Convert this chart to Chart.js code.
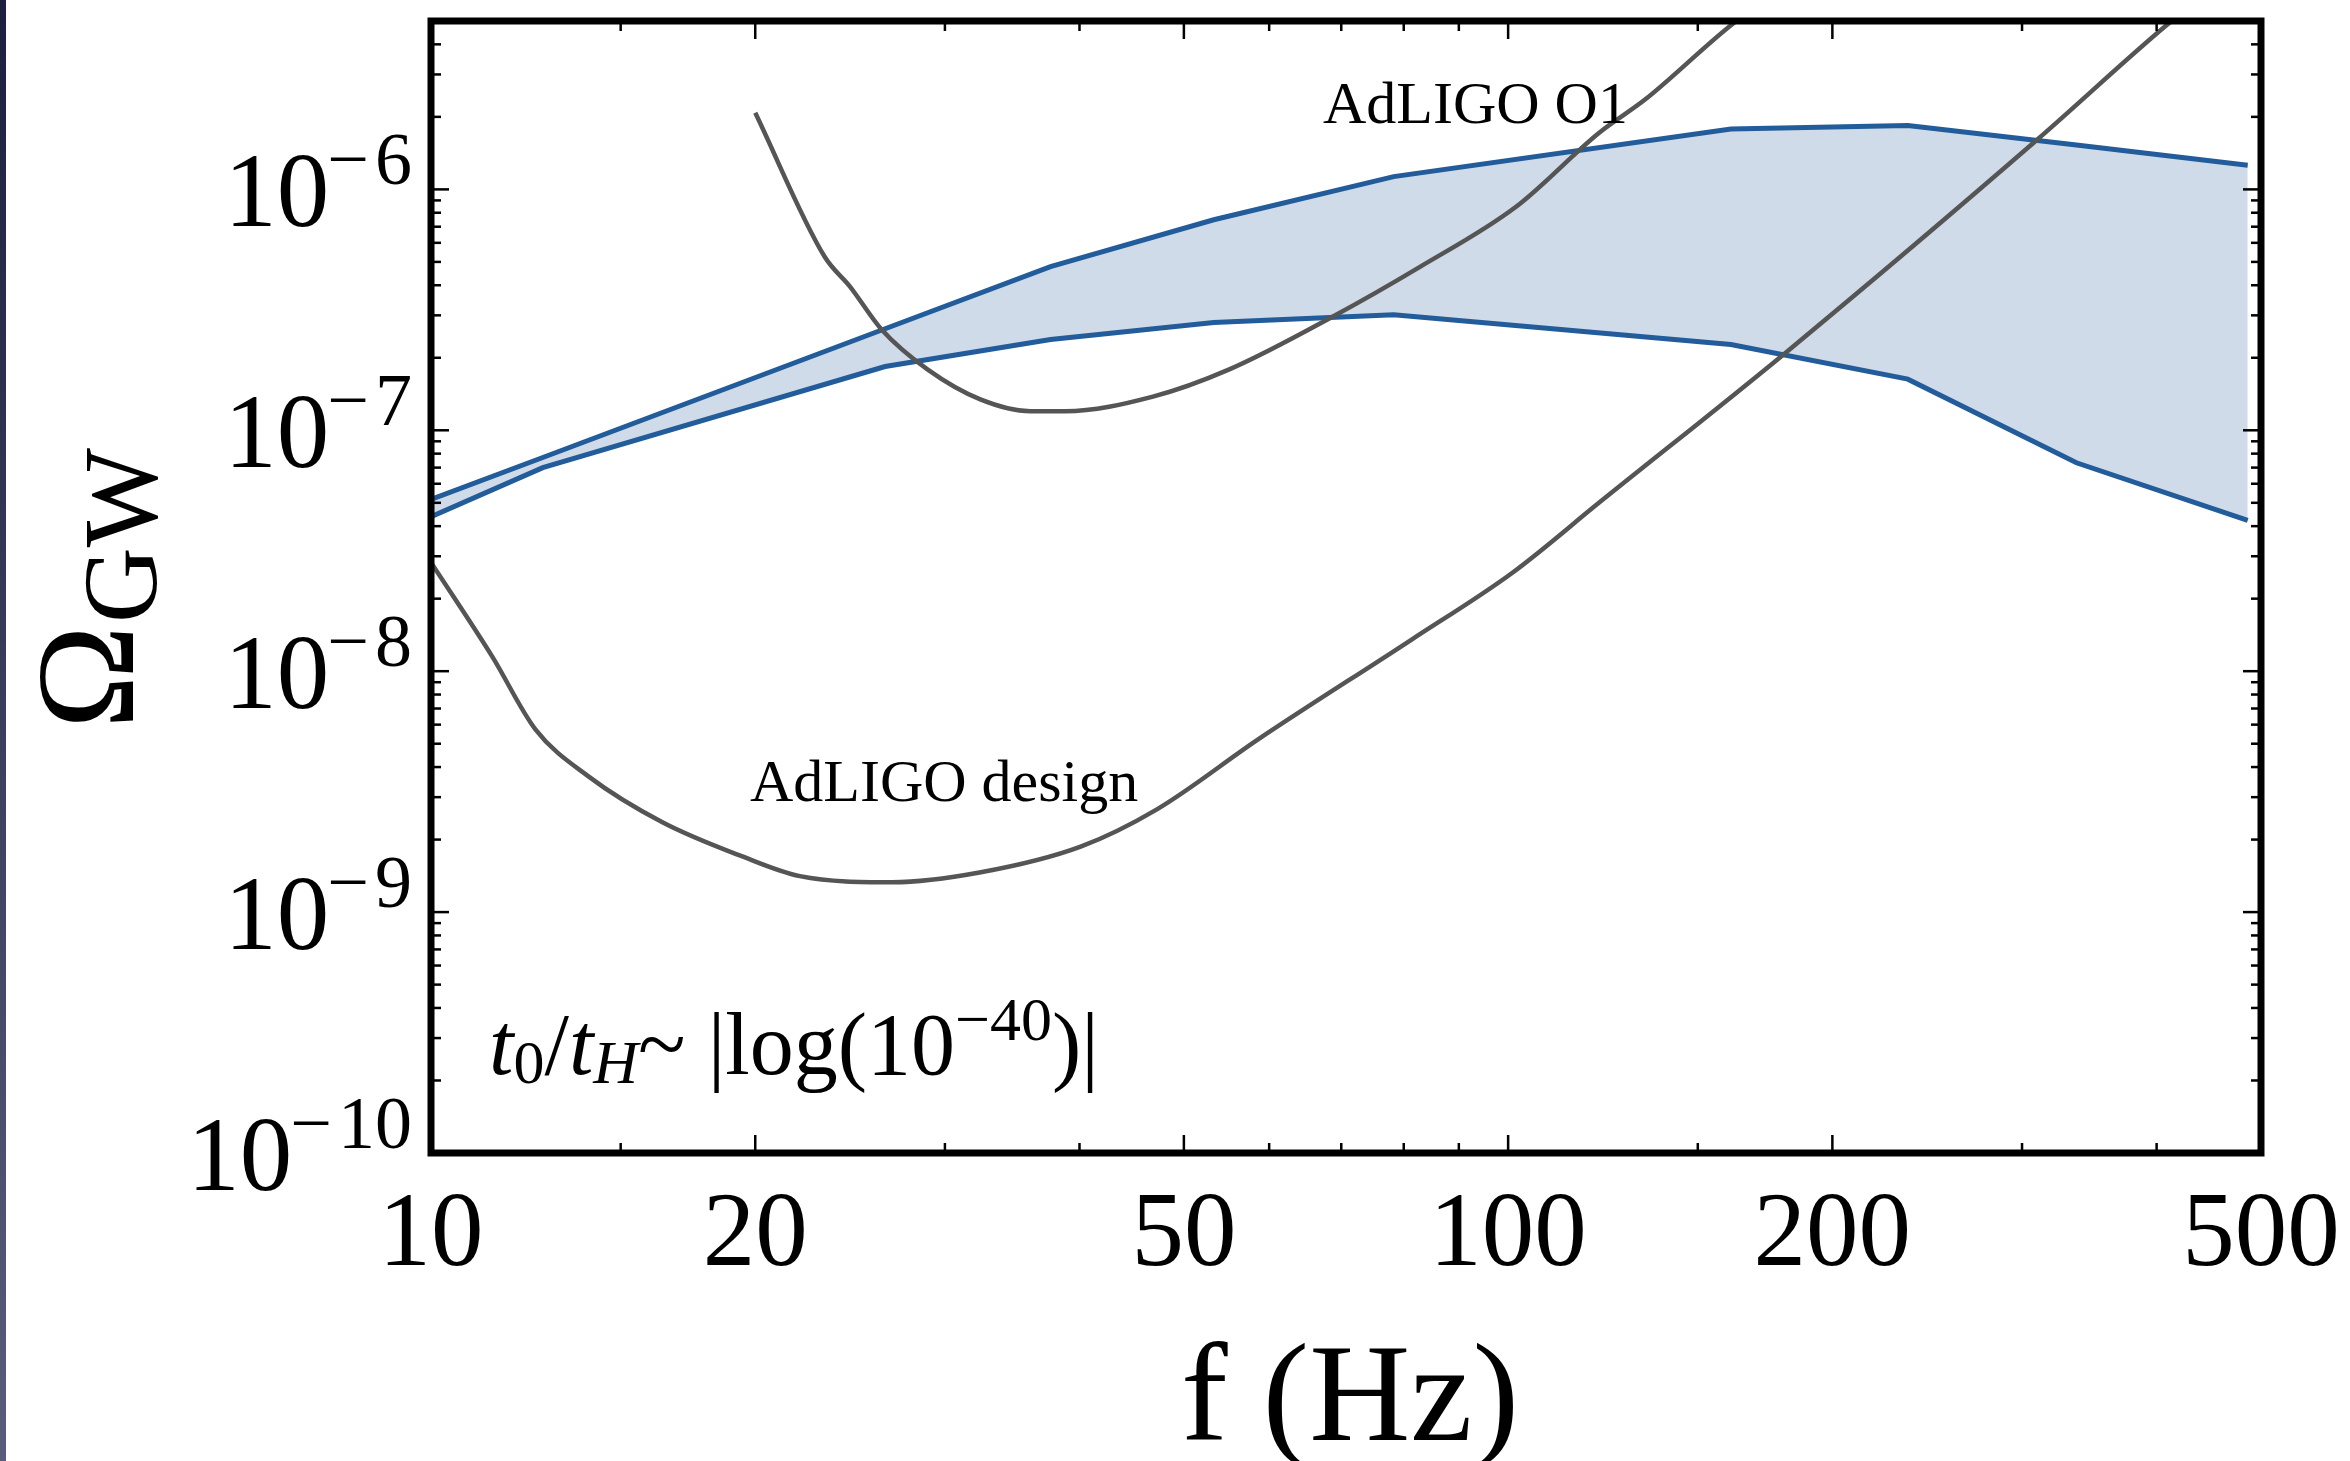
<!DOCTYPE html>
<html>
<head>
<meta charset="utf-8">
<script src="https://cdn.jsdelivr.net/npm/chart.js@4.4.0/dist/chart.umd.min.js"></script>
<style>
  html, body { margin: 0; padding: 0; background: #fff; }
  canvas { display: block; }
</style>
</head>
<body>
<canvas id="gwChart" width="2350" height="1461"></canvas>
<script>
// values: f in Hz, Omega_GW
const bandFreq  = [10, 12.7, 26.4, 37.6, 53.3, 78.3, 161, 235, 337, 486];
const bandUpper = [5.16e-8, 7.71e-8, 2.64e-7, 4.78e-7, 7.48e-7, 1.13e-6, 1.78e-6, 1.84e-6, 1.53e-6, 1.26e-6];
const bandLower = [4.38e-8, 7.0e-8, 1.84e-7, 2.38e-7, 2.80e-7, 3.02e-7, 2.27e-7, 1.63e-7, 7.33e-8, 4.23e-8];

const o1Freq  = [20.0, 23.2, 24.5, 26.2, 28.9, 32.4, 36.0, 38.8, 46.8, 55.1, 68.7, 82.9, 101.7, 121.5, 134, 162, 166];
const o1Omega = [2.08e-6, 5.25e-7, 3.94e-7, 2.62e-7, 1.79e-7, 1.34e-7, 1.20e-7, 1.20e-7, 1.38e-7, 1.79e-7, 2.96e-7, 4.78e-7, 8.47e-7, 1.72e-6, 2.36e-6, 4.91e-6, 5.3e-6];

const designFreq  = [10, 11.4, 12.5, 14.0, 16.4, 19.4, 22.0, 26.8, 32.3, 40.1, 47.2, 58.6, 81.3, 101, 121.5, 181, 310, 409, 419];
const designOmega = [2.83e-8, 1.15e-8, 5.74e-9, 3.66e-9, 2.36e-9, 1.71e-9, 1.41e-9, 1.33e-9, 1.46e-9, 1.87e-9, 2.67e-9, 5.21e-9, 1.35e-8, 2.57e-8, 5.01e-8, 2.10e-7, 1.61e-6, 4.82e-6, 5.25e-6];

const xMajorTicks = [10, 20, 50, 100, 200, 500];
const xMinorTicks = [15, 30, 40, 60, 70, 80, 90, 150, 300, 400];
const yDecades = [-10, -9, -8, -7, -6];

const SERIF = '"Liberation Serif", "Times New Roman", serif';
const BLUE = '#225c9a';
const GRAY = '#555555';

const pts = (xs, ys) => xs.map((v, i) => ({ x: v, y: ys[i] }));

// y minor ticks 2..9 x 10^n inside the range
const yMinorTicks = [];
yDecades.forEach(d => {
    for (let m = 2; m <= 9; m++) {
        const v = m * Math.pow(10, d);
        if (v <= 5e-6) yMinorTicks.push(v);
    }
});

function drawRuns(ctx, x, y, runs) {
    runs.forEach(r => {
        ctx.font = r.font;
        ctx.fillText(r.text, x, y + (r.dy || 0));
        x += ctx.measureText(r.text).width + (r.gap || 0);
    });
    return x;
}

const frameAndText = {
    id: 'frameAndText',
    beforeDraw(chart) {
        const ctx = chart.ctx;
        // thin dark strip on the left edge of the original picture
        const g = ctx.createLinearGradient(0, 0, 0, chart.height);
        g.addColorStop(0, '#1c1f3e');
        g.addColorStop(1, '#5a5c7c');
        ctx.save();
        ctx.fillStyle = g;
        ctx.fillRect(0, 0, 6, chart.height);
        ctx.restore();
    },
    afterDraw(chart) {
        const { ctx, chartArea: a, scales: { x, y } } = chart;
        ctx.save();
        ctx.strokeStyle = '#000';
        ctx.lineCap = 'butt';

        const tick = (x1, y1, x2, y2) => {
            ctx.beginPath(); ctx.moveTo(x1, y1); ctx.lineTo(x2, y2); ctx.stroke();
        };
        ctx.lineWidth = 2.5;
        xMajorTicks.forEach(v => {
            const px = x.getPixelForValue(v);
            tick(px, a.bottom, px, a.bottom - 18);
            tick(px, a.top, px, a.top + 18);
        });
        xMinorTicks.forEach(v => {
            const px = x.getPixelForValue(v);
            tick(px, a.bottom, px, a.bottom - 10);
            tick(px, a.top, px, a.top + 10);
        });
        yDecades.forEach(d => {
            const py = y.getPixelForValue(Math.pow(10, d));
            tick(a.left, py, a.left + 18, py);
            tick(a.right, py, a.right - 18, py);
        });
        yMinorTicks.forEach(v => {
            const py = y.getPixelForValue(v);
            tick(a.left, py, a.left + 10, py);
            tick(a.right, py, a.right - 10, py);
        });

        // frame
        ctx.lineWidth = 7;
        ctx.strokeRect(a.left, a.top, a.right - a.left, a.bottom - a.top);

        ctx.fillStyle = '#000';
        ctx.textBaseline = 'alphabetic';

        // x tick labels
        ctx.textAlign = 'center';
        ctx.font = '105px ' + SERIF;
        xMajorTicks.forEach(v => {
            ctx.fillText(String(v), x.getPixelForValue(v), 1265);
        });

        // y tick labels 10^n
        ctx.textAlign = 'left';
        const labelRight = 412;
        yDecades.forEach(d => {
            const py = y.getPixelForValue(Math.pow(10, d));
            ctx.font = '74px ' + SERIF;
            const digits = String(-d);
            const wd = ctx.measureText(digits).width;
            const wm = ctx.measureText('\u2212').width;
            const dx = labelRight - wd;
            ctx.fillText(digits, dx, py - 5);
            const mx = dx - 6 - wm;
            ctx.fillText('\u2212', mx, py - 5);
            ctx.font = '105px ' + SERIF;
            const w10 = ctx.measureText('10').width;
            ctx.fillText('10', mx + 2 - w10, py + 37);
        });

        // x axis title
        ctx.textAlign = 'center';
        ctx.font = '140px ' + SERIF;
        ctx.fillText('f (Hz)', 1350, 1440);

        // y axis title, rotated
        ctx.save();
        ctx.translate(133, 590);
        ctx.rotate(-Math.PI / 2);
        ctx.textAlign = 'left';
        drawRuns(ctx, -139, 0, [
            { text: '\u03A9', font: '140px ' + SERIF, gap: 2 },
            { text: 'GW', font: '105px ' + SERIF, dy: 23 }
        ]);
        ctx.restore();

        // curve labels
        ctx.textAlign = 'left';
        ctx.font = '60px ' + SERIF;
        ctx.fillText('AdLIGO O1', 1323, 123);
        ctx.fillText('AdLIGO design', 750, 801);

        drawRuns(ctx, 489, 1074, [
            { text: 't', font: 'italic 88px ' + SERIF },
            { text: '0', font: '62px ' + SERIF, dy: 9 },
            { text: '/', font: '88px ' + SERIF },
            { text: 't', font: 'italic 88px ' + SERIF },
            { text: 'H', font: 'italic 62px ' + SERIF, dy: 9 },
            { text: '~ |log(10', font: '88px ' + SERIF },
            { text: '\u221240', font: '62px ' + SERIF, dy: -34 },
            { text: ')|', font: '88px ' + SERIF }
        ]);
        ctx.restore();
    }
};

const ctx = document.getElementById('gwChart').getContext('2d');

new Chart(ctx, {
    type: 'line',
    data: {
        datasets: [
            {
                label: 'lower',
                data: pts(bandFreq, bandLower),
                borderColor: BLUE,
                borderWidth: 5,
                fill: false,
                order: 2
            },
            {
                label: 'upper',
                data: pts(bandFreq, bandUpper),
                borderColor: BLUE,
                borderWidth: 5,
                backgroundColor: '#cfdbe8',
                fill: '-1',
                order: 2
            },
            {
                label: 'AdLIGO O1',
                data: pts(o1Freq, o1Omega),
                borderColor: GRAY,
                borderWidth: 4.5,
                cubicInterpolationMode: 'monotone',
                fill: false,
                order: 1
            },
            {
                label: 'AdLIGO design',
                data: pts(designFreq, designOmega),
                borderColor: GRAY,
                borderWidth: 4.5,
                cubicInterpolationMode: 'monotone',
                fill: false,
                order: 1
            }
        ]
    },
    options: {
        responsive: false,
        animation: false,
        devicePixelRatio: 1,
        elements: { point: { radius: 0 } },
        layout: {
            padding: { left: 431, right: 89, top: 21, bottom: 308 }
        },
        scales: {
            x: { type: 'logarithmic', min: 10, max: 500, display: false },
            y: { type: 'logarithmic', min: 1e-10, max: 5e-6, display: false }
        },
        plugins: {
            legend: { display: false },
            tooltip: { enabled: false },
            filler: { drawTime: 'beforeDatasetsDraw' }
        }
    },
    plugins: [frameAndText]
});
</script>
</body>
</html>
